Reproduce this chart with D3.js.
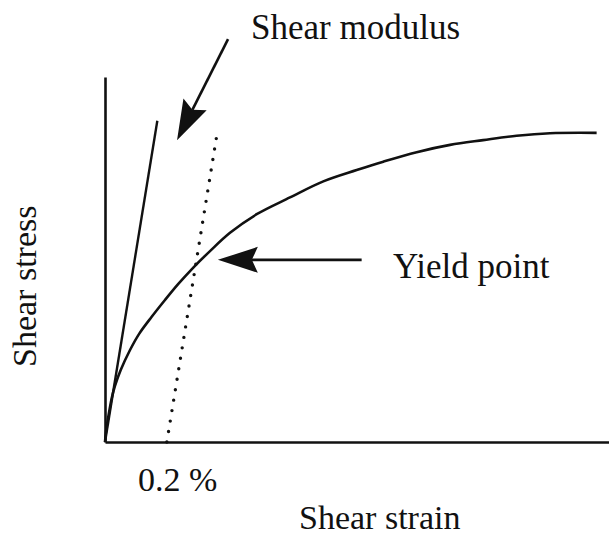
<!DOCTYPE html>
<html>
<head>
<meta charset="utf-8">
<script src="https://cdn.jsdelivr.net/npm/d3@7/dist/d3.min.js"></script>
<style>
  body { margin: 0; background: #fff; }
  svg { display: block; }
</style>
</head>
<body>
<svg id="chart"></svg>
<script>
// stress-strain curve (strain in %, stress in arbitrary units)
const strain = [0, 0.004, 0.0107, 0.0217, 0.032, 0.0508, 0.0809, 0.1109, 0.151, 0.194, 0.2371, 0.2856, 0.3396, 0.4043, 0.4906, 0.5983, 0.706, 0.814, 0.9, 1.008, 1.116, 1.223, 1.331, 1.439, 1.59];
const stress = [0, 3.3, 6.9, 12.0, 15.3, 19.7, 25.2, 29.7, 34.3, 38.9, 43.3, 47.8, 52.3, 57.3, 62.4, 67.0, 71.4, 74.5, 76.8, 79.4, 81.4, 82.7, 83.9, 84.6, 84.7];

// elastic slope (shear modulus) and the 0.2 % offset line
const modulus = 520;
const offset = 0.2;
const modulusTop = 88;
const offsetTop = 85;

// annotations in data units: [fromStrain, fromStress, toStrain, toStress]
const modulusArrow = [0.398, 110.4, 0.233, 82.7];
const yieldArrow = [0.83, 49.9, 0.365, 49.9];

const labels = {
  modulus: "Shear modulus",
  yield: "Yield point",
  offset: "0.2 %",
  xTitle: "Shear strain",
  yTitle: "Shear stress"
};

const fontFamily = '"Liberation Serif", "Times New Roman", Times, "DejaVu Serif", serif';
const width = 609, height = 542;
const margin = { top: 77, right: 0, bottom: 100, left: 105 };

const svg = d3.select("#chart").attr("width", width).attr("height", height);

const x = d3.scaleLinear().domain([0, 1.63]).range([margin.left, width - margin.right]);
const y = d3.scaleLinear().domain([0, 100]).range([height - margin.bottom, margin.top]);

// axes: bare lines, no ticks
const xAxis = svg.append("g")
  .attr("transform", `translate(0,${y(0)})`)
  .call(d3.axisBottom(x).ticks(0).tickSizeOuter(0));
const yAxis = svg.append("g")
  .attr("transform", `translate(${x(0)},0)`)
  .call(d3.axisLeft(y).ticks(0).tickSizeOuter(0));
[xAxis, yAxis].forEach(g => g.select(".domain").attr("stroke", "#111").attr("stroke-width", 2.6));

// stress-strain curve
const pts = strain.map((s, i) => ({ s, t: stress[i] }));
const line = d3.line().x(d => x(d.s)).y(d => y(d.t)).curve(d3.curveCatmullRom.alpha(0.5));
svg.append("path")
  .datum(pts)
  .attr("fill", "none")
  .attr("stroke", "#111")
  .attr("stroke-width", 2.6)
  .attr("d", line);

// shear modulus line
svg.append("line")
  .attr("x1", x(0)).attr("y1", y(0))
  .attr("x2", x(modulusTop / modulus)).attr("y2", y(modulusTop))
  .attr("stroke", "#111").attr("stroke-width", 2.4);

// 0.2 % offset line (dotted)
svg.append("line")
  .attr("x1", x(offset)).attr("y1", y(0))
  .attr("x2", x(offset + offsetTop / modulus)).attr("y2", y(offsetTop))
  .attr("stroke", "#111").attr("stroke-width", 3.4)
  .attr("stroke-linecap", "round")
  .attr("stroke-dasharray", "0,10.6");

// arrows
function arrow(a) {
  const x1 = x(a[0]), y1 = y(a[1]), x2 = x(a[2]), y2 = y(a[3]);
  const len = Math.hypot(x2 - x1, y2 - y1);
  const ux = (x2 - x1) / len, uy = (y2 - y1) / len;
  const px = -uy, py = ux;
  const hl = 40, hw = 13, notch = 6;
  const bx = x2 - ux * hl, by = y2 - uy * hl;
  svg.append("line")
    .attr("x1", x1).attr("y1", y1)
    .attr("x2", bx + ux * notch).attr("y2", by + uy * notch)
    .attr("stroke", "#111").attr("stroke-width", 2.6);
  const head = [
    [x2, y2],
    [bx + px * hw, by + py * hw],
    [bx + ux * notch, by + uy * notch],
    [bx - px * hw, by - py * hw]
  ];
  svg.append("path")
    .attr("d", "M" + head.join("L") + "Z")
    .attr("fill", "#111");
}
arrow(modulusArrow);
arrow(yieldArrow);

// text
function label(tx, ty, size, str, rotate) {
  return svg.append("text")
    .attr("transform", `translate(${tx},${ty})` + (rotate ? ` rotate(${rotate})` : ""))
    .attr("font-family", fontFamily)
    .attr("font-size", size)
    .attr("fill", "#111")
    .text(str);
}
label(251, 39, 35, labels.modulus);
label(393, 278, 35, labels.yield);
label(138, 491, 34, labels.offset);
label(299, 529, 34, labels.xTitle);
label(36, 367, 34, labels.yTitle, -90);
</script>
</body>
</html>
